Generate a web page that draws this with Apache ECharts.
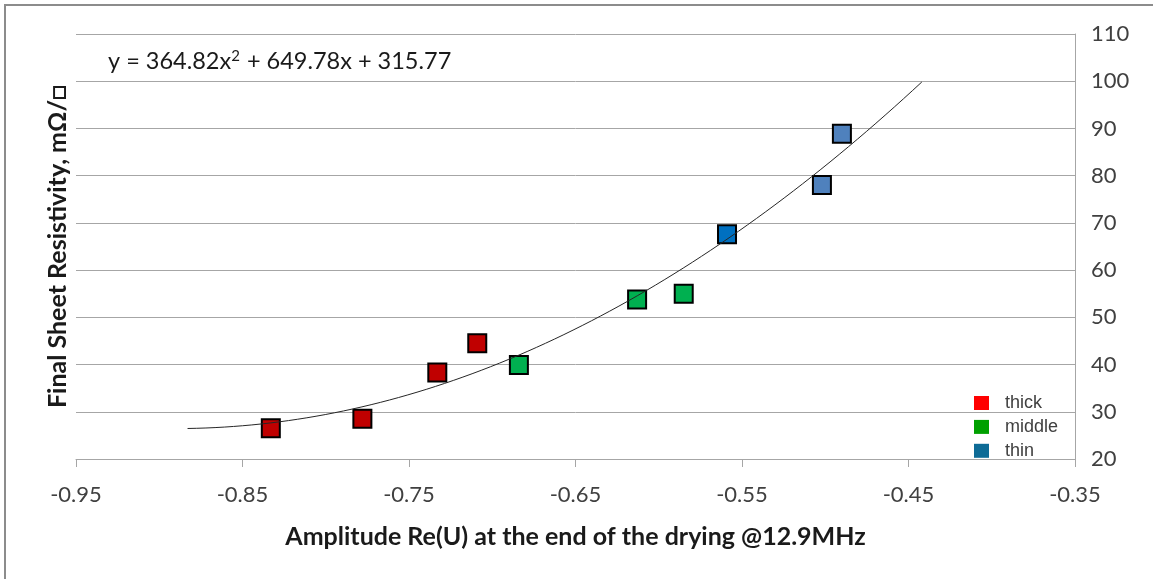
<!DOCTYPE html>
<html>
<head>
<meta charset="utf-8">
<script src="https://cdn.jsdelivr.net/npm/echarts@6/dist/echarts.min.js"></script>
<style>
  html, body { margin: 0; padding: 0; background: #fff; }
  #chart { width: 1153px; height: 579px; }
</style>
</head>
<body>
<div id="chart"></div>
<script>
// Measured samples, grouped by film thickness: amplitude Re(U) vs final sheet resistivity (mΩ/□)
const thickX  = [-0.833, -0.778, -0.733, -0.709];
const thickY  = [26.5, 28.5, 38.3, 44.5];
const middleX = [-0.684, -0.613, -0.585];
const middleY = [39.9, 53.8, 55.0];
const thinX   = [-0.559, -0.502, -0.490];
const thinY   = [67.6, 78.0, 88.9];

// Quadratic trend line y = a·x² + b·x + c and the x-span it covers
const trendCoefs = [364.82, 649.78, 315.77];
const trendSpan  = [-0.883, -0.442];

// Axis ticks
const xTicks = [-0.95, -0.85, -0.75, -0.65, -0.55, -0.45, -0.35];
const yTicks = [20, 30, 40, 50, 60, 70, 80, 90, 100, 110];

// Colours
const thickFill  = '#C00000';
const middleFill = '#00B050';
const thinFills  = ['#0070C0', '#4F81BD', '#4F81BD'];
const legendColors = { thick: '#FF0000', middle: '#00A000', thin: '#0E6B96' };

const FONT = 'Lato, "Open Sans", sans-serif';
const TEXT = '#404040';
const GRID = '#A6A6A6';

const zip = (xs, ys) => xs.map((x, i) => [x, ys[i]]);
const trendFn = x => trendCoefs[0] * x * x + trendCoefs[1] * x + trendCoefs[2];
const trendData = [];
const steps = 80;
for (let i = 0; i <= steps; i++) {
  const x = trendSpan[0] + (trendSpan[1] - trendSpan[0]) * i / steps;
  trendData.push([x, trendFn(x)]);
}
const eqText = 'y = ' + trendCoefs[0].toFixed(2) + 'x{sup|2} + ' +
  trendCoefs[1].toFixed(2) + 'x + ' + trendCoefs[2].toFixed(2);

const marker = (color) => ({ color: color, borderColor: '#000', borderWidth: 2, opacity: 1 });

const chart = echarts.init(document.getElementById('chart'), null, { renderer: 'canvas' });
chart.setOption({
  animation: false,
  backgroundColor: '#fff',
  textStyle: { fontFamily: FONT },
  graphic: [{
    type: 'rect', silent: true, z: 100,
    shape: { x: 5, y: 5, width: 1170, height: 600 },
    style: { fill: 'none', stroke: '#8C8C8C', lineWidth: 2 }
  }],
  title: {
    text: eqText, left: 103, top: 44,
    textStyle: {
      fontFamily: FONT, fontSize: 23.5, fontWeight: 'normal', color: '#1a1a1a',
      rich: { sup: { fontFamily: FONT, fontSize: 15, color: '#1a1a1a', verticalAlign: 'top', padding: [0, 1, 10, 0] } }
    }
  },
  grid: { left: 76, right: 78, top: 34, bottom: 120 },
  legend: {
    orient: 'vertical', left: 974, top: 394, padding: 0,
    itemWidth: 15, itemHeight: 14, itemGap: 5.9, icon: 'rect',
    textStyle: { fontFamily: '"Liberation Sans", Arial, sans-serif', fontSize: 18, color: TEXT, lineHeight: 14, padding: [0, 0, 0, 11] },
    data: ['thick', 'middle', 'thin'].map(n => ({ name: n, itemStyle: { color: legendColors[n], borderWidth: 0, opacity: 1 } }))
  },
  xAxis: {
    type: 'value', min: xTicks[0], max: xTicks[xTicks.length - 1],
    name: 'Amplitude Re(U) at the end of the drying @12.9MHz',
    nameLocation: 'middle', nameGap: 65,
    nameTextStyle: { fontFamily: FONT, fontSize: 25, fontWeight: 'bold', color: '#1a1a1a' },
    axisLine: { lineStyle: { color: GRID, width: 1 } },
    axisTick: { show: true, length: 8, inside: false, customValues: xTicks, lineStyle: { color: GRID } },
    axisLabel: { customValues: xTicks, margin: 25, fontSize: 22, color: TEXT, fontFamily: FONT,
      formatter: v => v.toFixed(2) },
    splitLine: { show: false }
  },
  yAxis: [{
    type: 'value', position: 'right', min: yTicks[0], max: yTicks[yTicks.length - 1], interval: 10,
    axisLine: { show: true, lineStyle: { color: GRID, width: 1 } },
    axisTick: { show: false },
    axisLabel: { margin: 16, fontSize: 22, color: TEXT, fontFamily: FONT, align: 'left' },
    splitLine: { show: true, lineStyle: { color: GRID, width: 1 } }
  }, {
    type: 'value', position: 'left', min: yTicks[0], max: yTicks[yTicks.length - 1], interval: 10,
    name: 'Final Sheet Resistivity, mΩ/\u25A1',
    nameLocation: 'middle', nameGap: 6,
    nameTextStyle: { fontFamily: FONT, fontSize: 25, fontWeight: 'bold', color: '#1a1a1a' },
    axisLine: { show: false }, axisTick: { show: false }, axisLabel: { show: false },
    splitLine: { show: false }
  }],
  series: [{
    name: 'thick', type: 'scatter', symbol: 'rect', symbolSize: 18, z: 2,
    itemStyle: marker(thickFill), data: zip(thickX, thickY)
  }, {
    name: 'middle', type: 'scatter', symbol: 'rect', symbolSize: 18, z: 2,
    itemStyle: marker(middleFill), data: zip(middleX, middleY)
  }, {
    name: 'thin', type: 'scatter', symbol: 'rect', symbolSize: 18, z: 2,
    itemStyle: marker(thinFills[0]),
    data: zip(thinX, thinY).map((p, i) => ({ value: p, itemStyle: { color: thinFills[i] } }))
  }, {
    name: 'trend', type: 'line', showSymbol: false, symbol: 'none', smooth: false, z: 5,
    silent: true, lineStyle: { color: '#262626', width: 1 }, data: trendData
  }]
});
</script>
</body>
</html>
